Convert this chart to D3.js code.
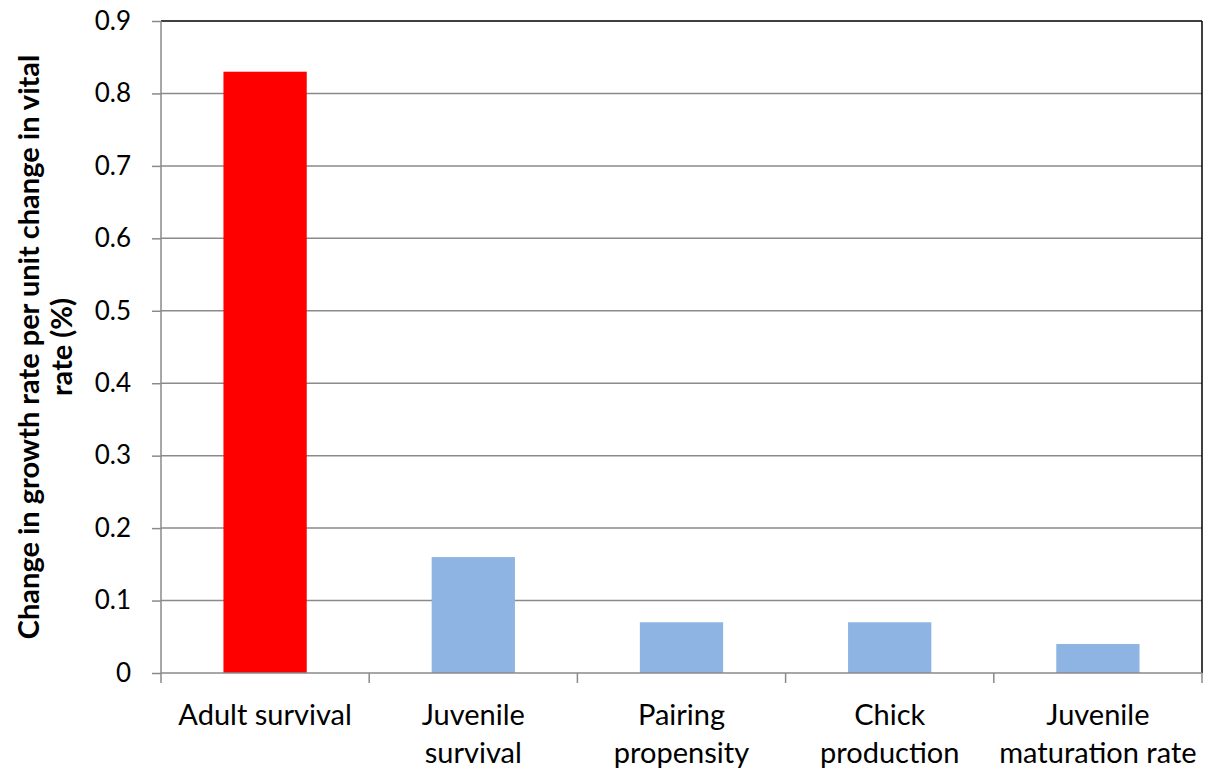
<!DOCTYPE html>
<html><head><meta charset="utf-8">
<script src="https://cdn.jsdelivr.net/npm/d3@7"></script>
<style>body{margin:0;background:#fff}svg{display:block}text{font-family:Lato,"Open Sans",sans-serif}</style>
</head><body><svg id="c" width="1213" height="774"></svg>
<script>
const categories = [["Adult survival"],["Juvenile","survival"],["Pairing","propensity"],["Chick","production"],["Juvenile","maturation rate"]];
const values = [0.83, 0.16, 0.07, 0.07, 0.04];
const barColors = ["#FF0000","#8EB4E3","#8EB4E3","#8EB4E3","#8EB4E3"];
const yTicks = [0,0.1,0.2,0.3,0.4,0.5,0.6,0.7,0.8,0.9];
const yTitle = ["Change in growth rate per unit change in vital","rate (%)"];

const svg = d3.select("#c");
const L=161, R=1202, T=21, B=673;
const x = d3.scaleBand().domain(d3.range(values.length)).range([L,R]).paddingInner(0.6).paddingOuter(0.3);
const xc = d3.scaleBand().domain(d3.range(values.length)).range([L,R]);
const y = d3.scaleLinear().domain([0,0.9]).range([B,T]);

// gridlines
svg.append("g").selectAll("line").data(yTicks.filter(d=>d>0 && d<0.9)).join("line")
  .attr("x1",L).attr("x2",R).attr("y1",d=>y(d)).attr("y2",d=>y(d))
  .attr("stroke","#8a8a8a").attr("stroke-width",1.5);

// bars
svg.append("g").selectAll("rect").data(values).join("rect")
  .attr("x",(d,i)=>x(i)).attr("width",x.bandwidth())
  .attr("y",d=>y(d)).attr("height",d=>B-y(d)).attr("fill",(d,i)=>barColors[i]);

// plot border top & right
svg.append("line").attr("x1",L).attr("x2",R).attr("y1",T).attr("y2",T).attr("stroke","#000").attr("stroke-width",1.5);
svg.append("line").attr("x1",R).attr("x2",R).attr("y1",T).attr("y2",B).attr("stroke","#000").attr("stroke-width",1.5);

// y axis
const ya = d3.axisLeft(y).tickValues(yTicks).tickSize(9).tickPadding(21).tickFormat(d=>d===0?"0":d3.format(".1f")(d));
const gy = svg.append("g").attr("transform",`translate(${L},0)`).call(ya);
gy.select(".domain").attr("stroke","#8a8a8a").attr("stroke-width",1.5).attr("d",`M0,${T}V${B}`);
gy.selectAll(".tick line").attr("stroke","#8a8a8a").attr("stroke-width",1.5);
gy.selectAll(".tick text").attr("font-size",26).attr("fill","#000").style("font-family","Lato,'Open Sans',sans-serif");

// x axis
const gx = svg.append("g");
gx.append("line").attr("x1",L).attr("x2",R).attr("y1",B).attr("y2",B).attr("stroke","#8a8a8a").attr("stroke-width",1.5);
const bounds = d3.range(values.length+1).map(i=>L+i*xc.step());
gx.selectAll("line.tk").data(bounds).join("line").attr("class","tk")
  .attr("x1",d=>d).attr("x2",d=>d).attr("y1",B).attr("y2",B+10).attr("stroke","#8a8a8a").attr("stroke-width",1.5);
const lab = gx.selectAll("text").data(categories).join("text")
  .attr("x",(d,i)=>xc(i)+xc.bandwidth()/2).attr("y",725)
  .attr("text-anchor","middle").attr("font-size",29).attr("fill","#000");
lab.selectAll("tspan").data(d=>d).join("tspan")
  .attr("x",function(){return this.parentNode.getAttribute("x");})
  .attr("dy",(d,i)=>i===0?0:38).text(d=>d);

// y title
const yt = svg.append("text").attr("transform",`translate(39,${(T+B)/2}) rotate(-90)`)
  .attr("text-anchor","middle").attr("font-size",29).attr("font-weight","bold").attr("fill","#000");
yt.selectAll("tspan").data(yTitle).join("tspan").attr("x",0).attr("dy",(d,i)=>i===0?0:33).text(d=>d);
</script></body></html>
